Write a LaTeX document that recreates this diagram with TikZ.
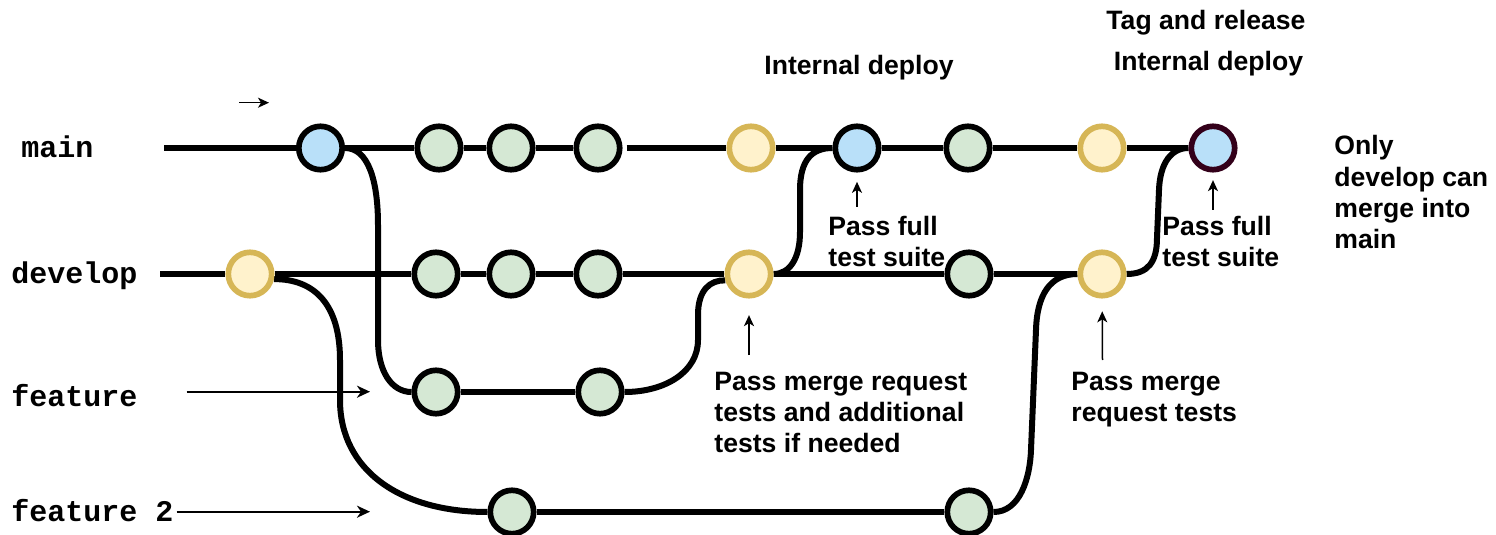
\documentclass[tikz,border=0pt]{standalone}
\usepackage{fontspec}
\setmainfont{Liberation Sans}
\setmonofont{Liberation Mono}
\usetikzlibrary{arrows.meta,backgrounds}
\definecolor{cblue}{HTML}{B9E0F9}
\definecolor{cgreen}{HTML}{D5E8D4}
\definecolor{cyfill}{HTML}{FFF2CC}
\definecolor{cyline}{HTML}{D6B656}
\definecolor{cdark}{HTML}{33001A}
\begin{document}
\begin{tikzpicture}[x=0.5pt,y=-0.5pt,
  commit/.style={circle,draw=black,line width=2.85pt,minimum size=21.7pt,inner sep=0pt},
  bluec/.style={commit,fill=cblue},
  greenc/.style={commit,fill=cgreen},
  yellowc/.style={commit,fill=cyfill,draw=cyline},
  darkc/.style={commit,fill=cblue,draw=cdark},
  branch/.style={line width=3pt,draw=black},
  ptr/.style={line width=0.75pt,-{Stealth[length=5.5pt,width=5pt,inset=1.5pt]}},
  bigptr/.style={line width=1pt,-{Stealth[length=6.5pt,width=6pt,inset=2pt]}},
  lbl/.style={font=\fontsize{13.3pt}{15.6pt}\selectfont\bfseries,inner sep=0pt},
  mono/.style={font=\fontsize{15pt}{18pt}\selectfont\ttfamily\bfseries,inner sep=0pt,anchor=base west}]
\useasboundingbox (0,0) rectangle (1496,535);

% commits
\node[bluec]   (m1) at (320.5,148) {};
\node[greenc]  (m2) at (439,148) {};
\node[greenc]  (m3) at (511,148) {};
\node[greenc]  (m4) at (598,148) {};
\node[yellowc] (m5) at (751,148) {};
\node[bluec]   (m6) at (857,148) {};
\node[greenc]  (m7) at (968,148) {};
\node[yellowc] (m8) at (1102,148) {};
\node[darkc]   (m9) at (1213,148) {};
\node[yellowc] (d1) at (250,274) {};
\node[greenc]  (d2) at (436,274) {};
\node[greenc]  (d3) at (511,274) {};
\node[greenc]  (d4) at (598,274) {};
\node[yellowc] (d5) at (749,274) {};
\node[greenc]  (d6) at (969,274) {};
\node[yellowc] (d7) at (1102,274) {};
\node[greenc]  (f1) at (436,392) {};
\node[greenc]  (f2) at (600,392) {};
\node[greenc]  (g1) at (512,512) {};
\node[greenc]  (g2) at (969,512) {};
\coordinate (mstart) at (164,148);
\coordinate (dstart) at (160,274);

\begin{scope}[on background layer]
\draw[branch] (mstart) -- (m1) -- (m2) -- (m3) -- (m4);
\draw[branch,shorten <=2pt] (m4) -- (m5);
\draw[branch] (m5) -- (m6) -- (m7) -- (m8) -- (m9);
\draw[branch] (dstart) -- (d1) -- (d2) -- (d3) -- (d4) -- (d5) -- (d6) -- (d7);
\draw[branch] (f1) -- (f2);
\draw[branch] (g1) -- (g2);
\draw[branch] (m1.east) .. controls (368,148) and (378,180) .. (378,225) -- (378,340) .. controls (378,372) and (392,392) .. (f1.west);
\draw[branch] (d1.-12) .. controls (315,279) and (340,305) .. (340,360) -- (340,400) .. controls (340,470) and (400,512) .. (g1.west);
\draw[branch] (f2.east) .. controls (665,392) and (698,372) .. (698,340) -- (698,315) .. controls (698,290) and (710,280) .. (d5.195);
\draw[branch] (d5.east) .. controls (790,274) and (800,258) .. (800,232) -- (800,190) .. controls (800,160) and (812,148) .. (m6.west);
\draw[branch] (g2.east) .. controls (1020,512) and (1030,478) .. (1031,450) -- (1036,330) .. controls (1037,295) and (1050,274) .. (d7.west);
\draw[branch] (d7.east) .. controls (1148,274) and (1157,262) .. (1157,238) -- (1159,190) .. controls (1160,162) and (1172,148) .. (m9.west);
\end{scope}

% pointers
\coordinate (ta1) at (239,102.7);
\coordinate (ta2) at (269,102.7);
\draw[ptr] (ta1) -- (ta2);
\coordinate (fa1) at (186.7,391.7);
\coordinate (fa2) at (370,391.7);
\draw[bigptr] (fa1) -- (fa2);
\coordinate (ga1) at (176.7,511.7);
\coordinate (ga2) at (370,511.7);
\draw[bigptr] (ga1) -- (ga2);
\coordinate (u6) at (857,207);
\coordinate (u5) at (749,355);
\coordinate (u7) at (1102.5,360);
\coordinate (u9) at (1213,210);
\draw[ptr,shorten >=4.65pt] (u6) -- (m6);
\draw[ptr,shorten >=8.3pt] (u5) -- (d5);
\draw[ptr,shorten >=6.4pt] (u7) -- (d7);
\draw[ptr,shorten >=3.8pt] (u9) -- (m9);

% branch names
\node[mono] (lmain) at (21,157.5) {main};
\node[mono] (ldev) at (11,284) {develop};
\node[mono] (lfeat) at (11,406.5) {feature};
\node[mono] (lfeat2) at (11,521.5) {feature 2};

% labels
\node[lbl,anchor=base] (h1) at (859,75) {Internal deploy};
\node[lbl,anchor=base] (h2) at (1206,29.3) {Tag and release};
\node[lbl,anchor=base] (h3) at (1208.5,71) {Internal deploy};
\node[lbl,anchor=base west] (t1) at (828,235) {\begin{tabular}[t]{@{}l@{}}Pass full\\test suite\end{tabular}};
\node[lbl,anchor=base west] (t2) at (1162,235) {\begin{tabular}[t]{@{}l@{}}Pass full\\test suite\end{tabular}};
\node[lbl,anchor=base west] (t3) at (1334,155) {\begin{tabular}[t]{@{}l@{}}Only\\develop can\\merge into\\main\end{tabular}};
\node[lbl,anchor=base west] (t4) at (714,390.5) {\begin{tabular}[t]{@{}l@{}}Pass merge request\\tests and additional\\tests if needed\end{tabular}};
\node[lbl,anchor=base west] (t5) at (1071,390.5) {\begin{tabular}[t]{@{}l@{}}Pass merge\\request tests\end{tabular}};
\end{tikzpicture}
\end{document}
